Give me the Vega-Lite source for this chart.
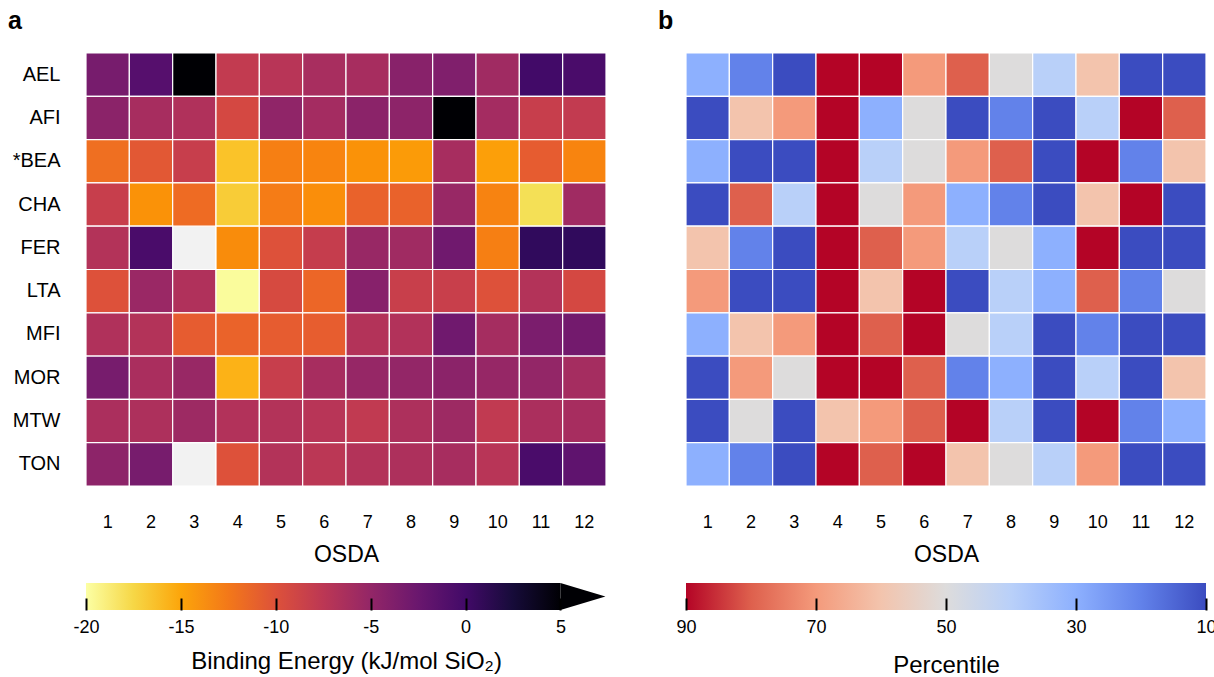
{
  "$schema": "https://vega.github.io/schema/vega-lite/v6.json",
  "background": "white",
  "padding": {"left": 8, "top": 9, "right": 0, "bottom": 0},
  "config": {
    "view": {"stroke": null},
    "font": "Liberation Sans",
    "axis": {"labelColor": "black", "titleColor": "black", "titleFontWeight": "normal", "domain": false, "ticks": false, "grid": false}
  },
  "columns": 2,
  "bounds": "flush",
  "spacing": {"row": 97, "column": 80},
  "resolve": {"scale": {"color": "independent"}},
  "datasets": {
    "grid": [
      {"z":"AEL","o":1,"e":-3.3,"p":30},{"z":"AEL","o":2,"e":-1.2,"p":20},{"z":"AEL","o":3,"e":8,"p":10},{"z":"AEL","o":4,"e":-8,"p":90},{"z":"AEL","o":5,"e":-7.3,"p":90},{"z":"AEL","o":6,"e":-6.3,"p":70},{"z":"AEL","o":7,"e":-6.2,"p":80},{"z":"AEL","o":8,"e":-4.3,"p":50},{"z":"AEL","o":9,"e":-3.8,"p":40},{"z":"AEL","o":10,"e":-5.8,"p":60},{"z":"AEL","o":11,"e":0,"p":10},{"z":"AEL","o":12,"e":-0.5,"p":10},
      {"z":"AFI","o":1,"e":-4.5,"p":10},{"z":"AFI","o":2,"e":-6.2,"p":60},{"z":"AFI","o":3,"e":-6.8,"p":70},{"z":"AFI","o":4,"e":-9.3,"p":90},{"z":"AFI","o":5,"e":-4.8,"p":30},{"z":"AFI","o":6,"e":-6,"p":50},{"z":"AFI","o":7,"e":-4.5,"p":10},{"z":"AFI","o":8,"e":-4.6,"p":20},{"z":"AFI","o":9,"e":8,"p":10},{"z":"AFI","o":10,"e":-6,"p":40},{"z":"AFI","o":11,"e":-8.3,"p":90},{"z":"AFI","o":12,"e":-8,"p":80},
      {"z":"*BEA","o":1,"e":-12,"p":30},{"z":"*BEA","o":2,"e":-10.5,"p":10},{"z":"*BEA","o":3,"e":-8.3,"p":10},{"z":"*BEA","o":4,"e":-16.5,"p":90},{"z":"*BEA","o":5,"e":-13,"p":40},{"z":"*BEA","o":6,"e":-13.3,"p":50},{"z":"*BEA","o":7,"e":-14,"p":70},{"z":"*BEA","o":8,"e":-14.5,"p":80},{"z":"*BEA","o":9,"e":-6.2,"p":10},{"z":"*BEA","o":10,"e":-14.7,"p":90},{"z":"*BEA","o":11,"e":-10.8,"p":20},{"z":"*BEA","o":12,"e":-13.3,"p":60},
      {"z":"CHA","o":1,"e":-8.3,"p":10},{"z":"CHA","o":2,"e":-14,"p":80},{"z":"CHA","o":3,"e":-11.8,"p":40},{"z":"CHA","o":4,"e":-17,"p":90},{"z":"CHA","o":5,"e":-12.8,"p":50},{"z":"CHA","o":6,"e":-13.8,"p":70},{"z":"CHA","o":7,"e":-11.2,"p":30},{"z":"CHA","o":8,"e":-11.2,"p":20},{"z":"CHA","o":9,"e":-5.3,"p":10},{"z":"CHA","o":10,"e":-13.2,"p":60},{"z":"CHA","o":11,"e":-18,"p":90},{"z":"CHA","o":12,"e":-5.8,"p":10},
      {"z":"FER","o":1,"e":-7,"p":60},{"z":"FER","o":2,"e":-0.5,"p":20},{"z":"FER","o":3,"e":null,"p":10},{"z":"FER","o":4,"e":-13.7,"p":90},{"z":"FER","o":5,"e":-10,"p":80},{"z":"FER","o":6,"e":-8.2,"p":70},{"z":"FER","o":7,"e":-5.3,"p":40},{"z":"FER","o":8,"e":-5.8,"p":50},{"z":"FER","o":9,"e":-2.8,"p":30},{"z":"FER","o":10,"e":-13,"p":90},{"z":"FER","o":11,"e":1,"p":10},{"z":"FER","o":12,"e":1,"p":10},
      {"z":"LTA","o":1,"e":-10,"p":70},{"z":"LTA","o":2,"e":-5.4,"p":10},{"z":"LTA","o":3,"e":-6.8,"p":10},{"z":"LTA","o":4,"e":-19.8,"p":90},{"z":"LTA","o":5,"e":-9.5,"p":60},{"z":"LTA","o":6,"e":-11.5,"p":90},{"z":"LTA","o":7,"e":-4.2,"p":10},{"z":"LTA","o":8,"e":-8.4,"p":40},{"z":"LTA","o":9,"e":-8.4,"p":30},{"z":"LTA","o":10,"e":-10,"p":80},{"z":"LTA","o":11,"e":-7,"p":20},{"z":"LTA","o":12,"e":-9.3,"p":50},
      {"z":"MFI","o":1,"e":-6.8,"p":30},{"z":"MFI","o":2,"e":-7,"p":60},{"z":"MFI","o":3,"e":-10.8,"p":70},{"z":"MFI","o":4,"e":-11.3,"p":90},{"z":"MFI","o":5,"e":-10.8,"p":80},{"z":"MFI","o":6,"e":-10.9,"p":90},{"z":"MFI","o":7,"e":-7,"p":50},{"z":"MFI","o":8,"e":-6.9,"p":40},{"z":"MFI","o":9,"e":-2.8,"p":10},{"z":"MFI","o":10,"e":-6.1,"p":20},{"z":"MFI","o":11,"e":-3.5,"p":10},{"z":"MFI","o":12,"e":-3,"p":10},
      {"z":"MOR","o":1,"e":-3.3,"p":10},{"z":"MOR","o":2,"e":-6.4,"p":70},{"z":"MOR","o":3,"e":-5.3,"p":50},{"z":"MOR","o":4,"e":-15.7,"p":90},{"z":"MOR","o":5,"e":-8.3,"p":90},{"z":"MOR","o":6,"e":-6.2,"p":80},{"z":"MOR","o":7,"e":-5.2,"p":20},{"z":"MOR","o":8,"e":-5,"p":30},{"z":"MOR","o":9,"e":-4.5,"p":10},{"z":"MOR","o":10,"e":-5.2,"p":40},{"z":"MOR","o":11,"e":-5,"p":10},{"z":"MOR","o":12,"e":-6.1,"p":60},
      {"z":"MTW","o":1,"e":-6.5,"p":10},{"z":"MTW","o":2,"e":-6.6,"p":50},{"z":"MTW","o":3,"e":-5.6,"p":10},{"z":"MTW","o":4,"e":-6.9,"p":60},{"z":"MTW","o":5,"e":-7,"p":70},{"z":"MTW","o":6,"e":-7.3,"p":80},{"z":"MTW","o":7,"e":-7.9,"p":90},{"z":"MTW","o":8,"e":-6.6,"p":40},{"z":"MTW","o":9,"e":-5.6,"p":10},{"z":"MTW","o":10,"e":-7.9,"p":90},{"z":"MTW","o":11,"e":-6.5,"p":20},{"z":"MTW","o":12,"e":-6.2,"p":30},
      {"z":"TON","o":1,"e":-4.6,"p":30},{"z":"TON","o":2,"e":-3.3,"p":20},{"z":"TON","o":3,"e":null,"p":10},{"z":"TON","o":4,"e":-10,"p":90},{"z":"TON","o":5,"e":-7,"p":80},{"z":"TON","o":6,"e":-7.5,"p":90},{"z":"TON","o":7,"e":-7,"p":60},{"z":"TON","o":8,"e":-6.6,"p":50},{"z":"TON","o":9,"e":-6.2,"p":40},{"z":"TON","o":10,"e":-7.3,"p":70},{"z":"TON","o":11,"e":-0.5,"p":10},{"z":"TON","o":12,"e":-1.8,"p":10}
    ],
    "cbA": [{"lo": -20, "hi": 5}],
    "cbB": [{"lo": 90, "hi": 10}]
  },
  "concat": [
    {
      "width": 520, "height": 433,
      "title": {"text": "a", "anchor": "start", "frame": "group", "dx": -78, "offset": -2, "baseline": "alphabetic", "fontSize": 25, "fontWeight": "bold", "color": "black"},
      "data": {"name": "grid"},
      "encoding": {
        "x": {"field": "o", "type": "ordinal", "axis": {"title": "OSDA", "labelAngle": 0, "labelFontSize": 18, "labelPadding": 27, "titleFontSize": 23, "titlePadding": 12}},
        "y": {"field": "z", "type": "nominal", "sort": null, "axis": {"title": null, "labelFontSize": 20, "labelPadding": 26}}
      },
      "layer": [
        {"mark": {"type": "rect", "fill": "#f2f2f2", "stroke": "white", "strokeWidth": 1.2}},
        {"transform": [{"filter": "isValid(datum.e)"}],
         "mark": {"type": "rect", "stroke": "white", "strokeWidth": 1.2},
         "encoding": {"color": {"field": "e", "type": "quantitative", "scale": {"scheme": "inferno", "reverse": true, "domain": [-20, 5], "clamp": true}, "legend": null}}}
      ]
    },
    {
      "width": 520, "height": 433,
      "title": {"text": "b", "anchor": "start", "frame": "group", "dx": -28, "offset": -2, "baseline": "alphabetic", "fontSize": 25, "fontWeight": "bold", "color": "black"},
      "data": {"name": "grid"},
      "mark": {"type": "rect", "stroke": "white", "strokeWidth": 1.2},
      "encoding": {
        "x": {"field": "o", "type": "ordinal", "axis": {"title": "OSDA", "labelAngle": 0, "labelFontSize": 18, "labelPadding": 27, "titleFontSize": 23, "titlePadding": 12}},
        "y": {"field": "z", "type": "nominal", "sort": null, "axis": null},
        "color": {"field": "p", "type": "quantitative", "scale": {"domain": [90, 80, 70, 60, 50, 40, 30, 20, 10], "range": ["#b40426", "#de604d", "#f49a7b", "#f3c4ad", "#dddcdc", "#b9d0f9", "#8db0fe", "#6282ea", "#3b4cc0"]}, "legend": null}
      }
    },
    {
      "width": 520, "height": 27,
      "data": {"name": "cbA"},
      "layer": [
        {"mark": {"type": "rect", "fill": {"gradient": "linear", "x1": 0, "y1": 0, "x2": 1, "y2": 0, "stops": [
          {"offset": 0, "color": "#fcffa4"}, {"offset": 0.1, "color": "#f6d746"}, {"offset": 0.2, "color": "#fca50a"}, {"offset": 0.3, "color": "#f37819"}, {"offset": 0.4, "color": "#dd513a"}, {"offset": 0.5, "color": "#bc3754"}, {"offset": 0.6, "color": "#932667"}, {"offset": 0.7, "color": "#6a176e"}, {"offset": 0.8, "color": "#420a68"}, {"offset": 0.9, "color": "#160b39"}, {"offset": 1, "color": "#000004"}]}},
         "encoding": {
           "x": {"field": "lo", "type": "quantitative", "scale": {"domain": [-20, 7.4], "nice": false, "zero": false},
                 "axis": {"values": [-20, -15, -10, -5, 0, 5], "labelExpr": "'' + datum.value", "title": "Binding Energy (kJ/mol SiO₂)", "ticks": true, "tickSize": -12, "tickWidth": 2, "tickColor": "black", "labelPadding": 20, "labelFontSize": 18, "labelFlush": false, "labelOverlap": false, "titleFontSize": 24, "titlePadding": 13, "zindex": 1}},
           "x2": {"field": "hi"}
         }},
        {"mark": {"type": "point", "shape": "M0,-0.3L1,0L0,0.3Z", "size": 8100, "filled": true, "color": "#000004", "opacity": 1, "strokeWidth": 0},
         "encoding": {"x": {"field": "hi", "type": "quantitative"}}}
      ]
    },
    {
      "width": 520, "height": 27,
      "data": {"name": "cbB"},
      "mark": {"type": "rect", "fill": {"gradient": "linear", "x1": 0, "y1": 0, "x2": 1, "y2": 0, "stops": [
        {"offset": 0, "color": "#b40426"}, {"offset": 0.125, "color": "#de604d"}, {"offset": 0.25, "color": "#f49a7b"}, {"offset": 0.375, "color": "#f3c4ad"}, {"offset": 0.5, "color": "#dddcdc"}, {"offset": 0.625, "color": "#b9d0f9"}, {"offset": 0.75, "color": "#8db0fe"}, {"offset": 0.875, "color": "#6282ea"}, {"offset": 1, "color": "#3b4cc0"}]}},
      "encoding": {
        "x": {"field": "lo", "type": "quantitative", "scale": {"domain": [90, 10], "nice": false, "zero": false},
              "axis": {"values": [90, 70, 50, 30, 10], "title": "Percentile", "ticks": true, "tickSize": -12, "tickWidth": 2, "tickColor": "black", "labelPadding": 20, "labelFontSize": 18, "labelFlush": false, "labelOverlap": false, "titleFontSize": 24, "titlePadding": 17, "zindex": 1}},
        "x2": {"field": "hi"}
      }
    }
  ]
}
